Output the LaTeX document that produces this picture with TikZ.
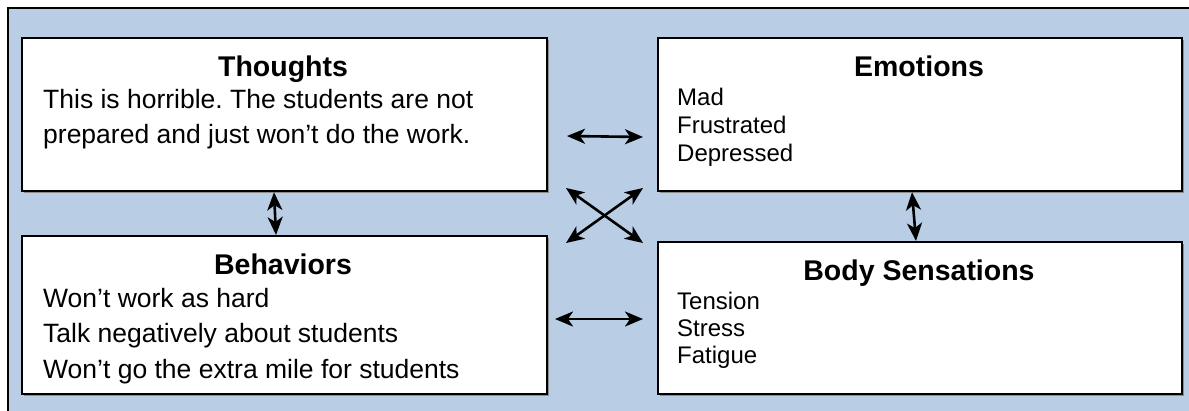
\documentclass[tikz,border=0pt]{standalone}
\usepackage{fontspec}
\setmainfont{Liberation Sans}
\frenchspacing
\usetikzlibrary{arrows.meta,shadows}
\definecolor{bgblue}{RGB}{185,205,228}
\tikzset{
  box/.style={draw=black, line width=2.2pt, fill=white, anchor=north west, inner sep=0pt,
     drop shadow={shadow xshift=1.5pt, shadow yshift=-1.5pt, fill=black!45, opacity=1}},
  ttl/.style={font=\bfseries\fontsize{28.5}{32}\selectfont, inner sep=0pt, anchor=base},
  txt/.style={font=\fontsize{24}{28}\selectfont, anchor=base west, inner sep=0pt},
  txtl/.style={font=\fontsize{26.5}{30}\selectfont, anchor=base west, inner sep=0pt},
  link/.style={line width=2.6pt, {Stealth[length=18pt,width=15pt,inset=5pt]}-{Stealth[length=18pt,width=15pt,inset=5pt]}}
}
\begin{document}
\begin{tikzpicture}[x=1pt,y=-1pt]
\useasboundingbox (0,0) rectangle (1189,410);
\begin{scope}
\clip (0,0) rectangle (1189,410);
\draw[fill=bgblue, line width=2.2pt] (8,8) rectangle (1200,420);
\end{scope}
% boxes
\node[box, minimum width=525pt, minimum height=153pt] (th) at (21,37) {};
\node[box, minimum width=524pt, minimum height=153pt] (em) at (657,37) {};
\node[box, minimum width=525pt, minimum height=158pt] (be) at (21,235) {};
\node[box, minimum width=524pt, minimum height=152pt] (bs) at (657,241) {};
% titles
\node[ttl] (tht) at (283,76) {Thoughts};
\node[ttl] (emt) at (919,76) {Emotions};
\node[ttl] (bet) at (283,274) {Behaviors};
\node[ttl] (bst) at (919,280) {Body Sensations};
% texts
\node[txtl] (th1) at (43,108) {This is horrible. The students are not};
\node[txtl] (th2) at (43,143) {prepared and just won’t do the work.};
\node[txt] (em1) at (677,105) {Mad};
\node[txt] (em2) at (677,133) {Frustrated};
\node[txt] (em3) at (677,161) {Depressed};
\node[txtl] (be1) at (43,307) {Won’t work as hard};
\node[txtl] (be2) at (43,342) {Talk negatively about students};
\node[txtl] (be3) at (43,378) {Won’t go the extra mile for students};
\node[txt] (bs1) at (677,309) {Tension};
\node[txt] (bs2) at (677,336) {Stress};
\node[txt] (bs3) at (677,363) {Fatigue};
% connector end points
\coordinate (a1) at (567,136);
\coordinate (a2) at (643,137);
\coordinate (b1) at (555,319);
\coordinate (b2) at (643,319);
\coordinate (c1) at (566,188);
\coordinate (c2) at (643,243);
\coordinate (d1) at (643,188);
\coordinate (d2) at (566,243);
\draw[link] (a1) -- (a2);
\draw[link] (b1) -- (b2);
\draw[link] (c1) -- (c2);
\draw[link] (d1) -- (d2);
\draw[link] (th.south -| 274,0) -- (be.north -| 276,0);
\draw[link] (em.south -| 912,0) -- (bs.north -| 916,0);
\end{tikzpicture}
\end{document}
